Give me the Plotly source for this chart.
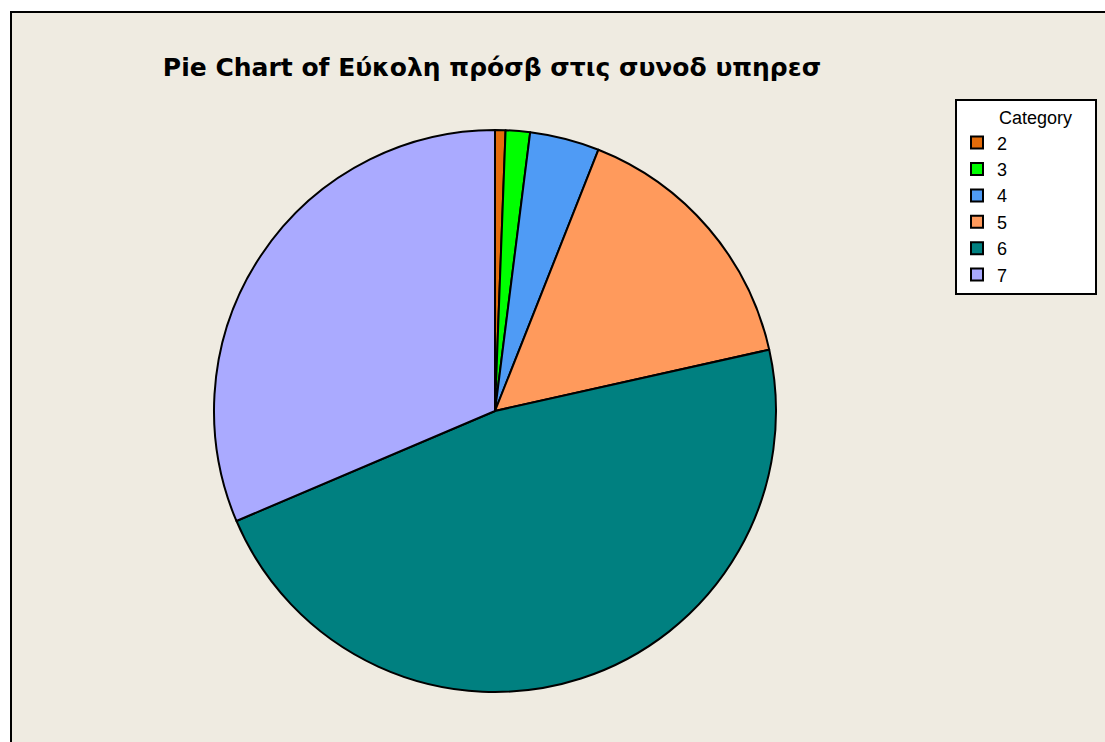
import plotly.graph_objects as go

categories = ["2", "3", "4", "5", "6", "7"]
values = [0.6, 1.4, 4.0, 15.5, 47.1, 31.4]
colors = ["#E46C0A", "#00FF00", "#4F9BF5", "#FF9A5C", "#008080", "#AAAAFF"]
title_text = "Pie Chart of Εύκολη πρόσβ στις συνοδ υπηρεσ"
legend_title = "Category"

W, H = 1105, 742
cx, cy, r = 495, 411, 281
NB = "&nbsp;"

fig = go.Figure(go.Pie(
    labels=categories,
    values=values,
    sort=False,
    direction="clockwise",
    rotation=0,
    textinfo="none",
    hoverinfo="label+percent",
    marker=dict(colors=colors, line=dict(color="black", width=2)),
    domain=dict(x=[(cx - r) / W, (cx + r) / W], y=[(H - cy - r) / H, (H - cy + r) / H]),
))

fig.update_layout(
    width=W, height=H,
    margin=dict(l=0, r=0, t=0, b=0, autoexpand=False),
    paper_bgcolor="white",
    font=dict(family="Liberation Sans, Arial, sans-serif", color="black"),
    title=dict(text="<b>" + title_text + "</b>", x=492 / W, xanchor="center",
               y=1 - 67 / H, yanchor="middle",
               font=dict(family="DejaVu Sans, sans-serif", size=25, color="black")),
    legend=dict(
        title=dict(text=NB * 8 + legend_title + NB * 4, side="top", font=dict(size=18)),
        font=dict(size=18, color="black"),
        x=955 / W, xanchor="left", y=1 - 99 / H, yanchor="top",
        bgcolor="white", bordercolor="black", borderwidth=2,
    ),
    shapes=[dict(type="rect", xref="paper", yref="paper", x0=11 / W, x1=1.2, y0=-0.2, y1=1 - 12 / H,
                 fillcolor="#EFEBE1", line=dict(color="black", width=2), layer="below")],
)

fig.write_html(
    "out.html",
    config={"displayModeBar": False},
    post_script="document.body.style.margin='0';document.body.style.overflow='hidden';",
)
